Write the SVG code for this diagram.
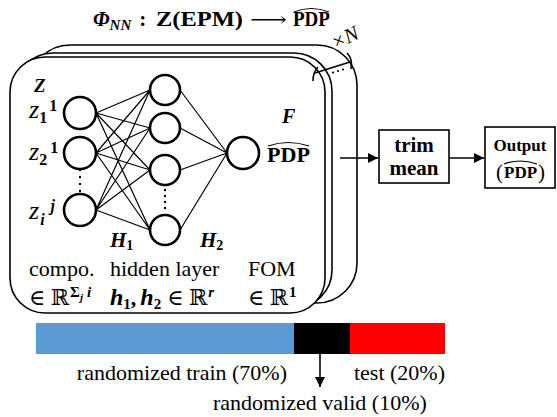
<svg xmlns="http://www.w3.org/2000/svg" width="557" height="417" viewBox="0 0 557 417">
<defs>
<style>
.card{fill:#fff;stroke:#000;stroke-width:1.6}
.node{fill:#fff;stroke:#000;stroke-width:2.6}
.edge{stroke:#000;stroke-width:1.2;fill:none}
.ln{stroke:#000;stroke-width:1.6;fill:none}
.box{fill:#fff;stroke:#000;stroke-width:1.6}
.t{font-family:"Liberation Serif","DejaVu Serif",serif;fill:#000}
.b{font-weight:bold}
.i{font-style:italic}
.dot{fill:#000}
</style>
<marker id="ah" viewBox="0 0 10 10" refX="10" refY="5" markerWidth="10" markerHeight="10" markerUnits="userSpaceOnUse" orient="auto">
<path d="M0,0 L10,5 L0,10 z" fill="#000"/>
</marker>
</defs>

<!-- title -->
<g id="title">
<text class="t b" x="93" y="26" font-size="21"><tspan font-style="italic">Φ</tspan><tspan font-style="italic" font-size="15" dy="4">NN</tspan><tspan dy="-4" dx="8">:</tspan></text>
<text class="t b" x="156" y="26" font-size="20" textLength="87" lengthAdjust="spacingAndGlyphs">Z(EPM)</text>
<text class="t" x="250" y="26" font-size="20" textLength="37" lengthAdjust="spacingAndGlyphs">⟶</text>
<text class="t b" x="293" y="26" font-size="20" textLength="37" lengthAdjust="spacingAndGlyphs">PDP</text>
<path class="edge" d="M294,12 Q311,5 329,12"/>
</g>

<!-- stacked cards -->
<g id="cards">
<rect class="card" x="30" y="45" width="327" height="258" rx="40"/>
<rect class="card" x="15" y="53" width="317" height="255" rx="38"/>
<rect class="card" x="10" y="57" width="315" height="256" rx="35"/>
<path class="ln" d="M315,73 L350,62"/>
<path class="ln" d="M313,81 Q313,72 318,67"/>
<path class="ln" d="M347,53 Q353,59 351,69"/>
<circle class="dot" cx="333" cy="72.5" r="1.1"/>
<circle class="dot" cx="338" cy="71" r="1.1"/>
<circle class="dot" cx="343" cy="69.5" r="1.1"/>
<text class="t i" x="335" y="50" font-size="21" transform="rotate(-25 335 50)">×N</text>
</g>

<!-- connectors -->
<g id="connectors">
<path class="edge" d="M96,113 L150,90 M96,113 L150,128 M96,113 L150,170 M96,113 L150,230
M96,153 L150,90 M96,153 L150,128 M96,153 L150,170 M96,153 L150,230
M96,210 L150,90 M96,210 L150,128 M96,210 L150,170 M96,210 L150,230
M180,90 L227,153 M180,128 L227,153 M180,170 L227,153 M180,230 L227,153"/>
<path class="ln" d="M340,158 L378,158" marker-end="url(#ah)"/>
<path class="ln" d="M449,158 L484,158" marker-end="url(#ah)"/>
<path class="ln" d="M320,354 L320,387" marker-end="url(#ah)"/>
</g>

<!-- input nodes -->
<g id="input-layer">
<text class="t b i" x="34" y="92" font-size="19">Z</text>
<circle id="z1" class="node" cx="80" cy="113" r="16"/>
<circle id="z2" class="node" cx="80" cy="153" r="16"/>
<circle id="zi" class="node" cx="80" cy="210" r="16"/>
<circle class="dot" cx="80" cy="170" r="1.2"/>
<circle class="dot" cx="80" cy="177" r="1.2"/>
<circle class="dot" cx="80" cy="184" r="1.2"/>
<circle class="dot" cx="80" cy="191" r="1.2"/>
<text class="t" x="29" y="118"><tspan font-style="italic" font-size="26">z</tspan><tspan font-size="16" font-weight="bold" dy="5">1</tspan><tspan font-size="16" font-weight="bold" dx="3" dy="-12">1</tspan></text>
<text class="t" x="29" y="160"><tspan font-style="italic" font-size="26">z</tspan><tspan font-size="16" font-weight="bold" dy="5">2</tspan><tspan font-size="16" font-weight="bold" dx="3" dy="-12">1</tspan></text>
<text class="t" x="29" y="219"><tspan font-style="italic" font-size="26">z</tspan><tspan font-size="16" font-weight="bold" font-style="italic" dx="1" dy="6">i</tspan><tspan font-size="16" font-weight="bold" font-style="italic" dx="6" dy="-14">j</tspan></text>
</g>

<!-- hidden nodes -->
<g id="hidden-layer">
<circle class="node" cx="165" cy="90" r="15"/>
<circle class="node" cx="165" cy="128" r="15"/>
<circle class="node" cx="165" cy="170" r="15"/>
<circle class="node" cx="165" cy="230" r="15"/>
<circle class="dot" cx="165" cy="190" r="1.2"/>
<circle class="dot" cx="165" cy="196" r="1.2"/>
<circle class="dot" cx="165" cy="202" r="1.2"/>
<circle class="dot" cx="165" cy="208" r="1.2"/>
<text class="t b" x="110" y="247"><tspan font-style="italic" font-size="21">H</tspan><tspan font-size="14" dy="3">1</tspan></text>
<text class="t b" x="200" y="247"><tspan font-style="italic" font-size="21">H</tspan><tspan font-size="14" dy="3">2</tspan></text>
</g>

<!-- output node -->
<g id="output-node">
<circle class="node" cx="243" cy="153" r="16"/>
<text class="t b i" x="282" y="123" font-size="20">F</text>
<text class="t b" x="267" y="162" font-size="20" textLength="43" lengthAdjust="spacingAndGlyphs">PDP</text>
<path class="edge" d="M268,146 Q288,139 309,146"/>
</g>

<!-- layer labels -->
<g id="layer-labels">
<text class="t" x="29" y="276" font-size="22">compo.</text>
<text class="t" x="110" y="276" font-size="22">hidden layer</text>
<text class="t" x="248" y="276" font-size="22">FOM</text>
<text class="t" x="29" y="305" font-size="22">∈ ℝ<tspan font-size="15" font-weight="bold" dx="1" dy="-8">Σ</tspan><tspan font-size="11" font-weight="bold" font-style="italic" dy="4">j</tspan><tspan font-size="15" font-weight="bold" font-style="italic" dx="4" dy="-4">i</tspan></text>
<text class="t" x="110" y="305" font-size="22"><tspan font-weight="bold" font-style="italic" font-size="24">h</tspan><tspan font-weight="bold" font-size="15" dy="4">1</tspan><tspan font-weight="bold" dy="-4">,</tspan><tspan font-weight="bold" font-style="italic" font-size="24" dx="4">h</tspan><tspan font-weight="bold" font-size="15" dy="4">2</tspan><tspan dx="6" dy="-4">∈ ℝ</tspan><tspan font-weight="bold" font-style="italic" font-size="15" dx="1" dy="-8">r</tspan></text>
<text class="t" x="248" y="305" font-size="22">∈ ℝ<tspan font-size="15" font-weight="bold" dx="1" dy="-8">1</tspan></text>
</g>

<!-- trim mean -->
<g id="trim-mean">
<rect class="box" x="379" y="130" width="70" height="53"/>
<text class="t b" x="414" y="152" font-size="21" text-anchor="middle">trim</text>
<text class="t b" x="414" y="175" font-size="21" text-anchor="middle">mean</text>
</g>

<!-- output -->
<g id="output">
<rect class="box" x="485" y="127" width="70" height="61"/>
<text class="t b" x="520" y="151" font-size="17" text-anchor="middle">Output</text>
<text class="t" x="496" y="179"><tspan font-size="21">(</tspan><tspan font-size="17" font-weight="bold" dx="1" dy="-1">PDP</tspan><tspan font-size="21" dx="1" dy="1">)</tspan></text>
<path class="edge" d="M504,164 Q520,158 537,164"/>
</g>

<!-- data split bar -->
<g id="split-bar">
<rect x="36" y="323" width="258" height="31" fill="#5B9BD5"/>
<rect x="294" y="323" width="56" height="31" fill="#000"/>
<rect x="350" y="323" width="95" height="31" fill="#FF0000"/>
<text class="t" x="287" y="380" font-size="22" text-anchor="end">randomized train (70%)</text>
<text class="t" x="445" y="380" font-size="22" text-anchor="end">test (20%)</text>
<text class="t" x="213" y="410" font-size="22">randomized valid (10%)</text>
</g>
</svg>
